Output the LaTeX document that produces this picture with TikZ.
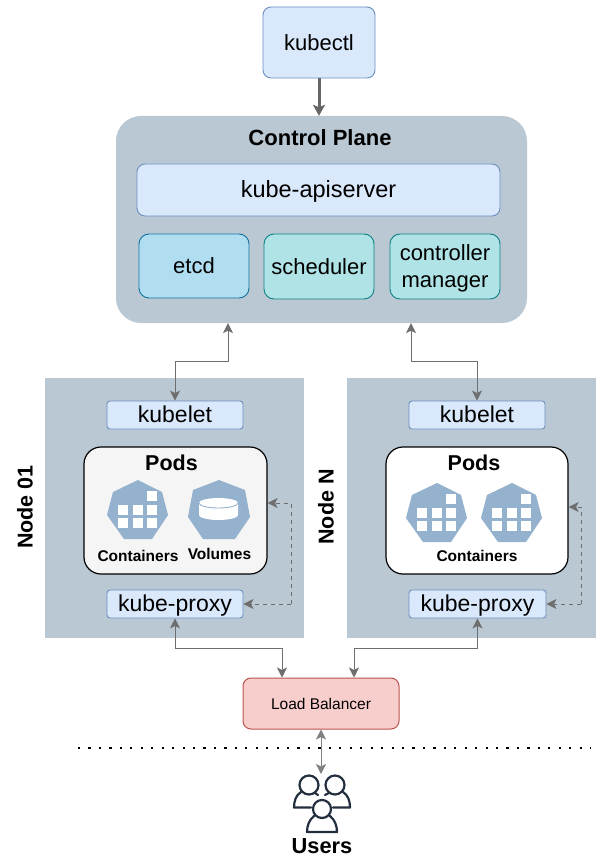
\documentclass[tikz,border=0pt]{standalone}
\usepackage{fontspec}
\setmainfont{Liberation Sans}
\usetikzlibrary{arrows.meta,calc}
\definecolor{panel}{HTML}{BAC8D3}
\definecolor{blueF}{HTML}{DAE8FC}\definecolor{blueD}{HTML}{6C8EBF}
\definecolor{etcdF}{HTML}{B1DDF0}\definecolor{etcdD}{HTML}{10739E}
\definecolor{tealF}{HTML}{B0E3E6}\definecolor{tealD}{HTML}{0E8088}
\definecolor{redF}{HTML}{F8CECC}\definecolor{redD}{HTML}{B85450}
\definecolor{iconC}{HTML}{94B1CD}\definecolor{userC}{HTML}{232F3E}
\definecolor{lineC}{HTML}{666666}\definecolor{thinC}{HTML}{6E6E6E}
\newcommand{\bx}[7]{% name, style, x0,y0,x1,y1, text
  \node[#2,minimum width=#5pt-#3pt,minimum height=#6pt-#4pt] (#1) at ({(#3+#5)/2},{(#4+#6)/2}) {#7};}
\tikzset{
  x=1pt,y=-1pt,
  txt/.style={font=\fontsize{#1}{#1}\selectfont,text=black,inner sep=0pt,align=center},
  cpbox/.style={fill=panel,draw=none,rounded corners=25pt,inner sep=0pt},
  panelbox/.style={fill=panel,draw=none,inner sep=0pt},
  bluebox/.style={txt=#1,fill=blueF,draw=blueD,line width=0.9pt,rounded corners=8pt},
  smallblue/.style={txt=23,fill=blueF,draw=blueD,line width=0.9pt,rounded corners=3pt,text height=19pt,text depth=4.5pt},
  etcdbox/.style={txt=22,fill=etcdF,draw=etcdD,line width=0.9pt,rounded corners=10pt},
  tealbox/.style={txt=22,fill=tealF,draw=tealD,line width=0.9pt,rounded corners=10pt},
  podbox/.style={draw=black,line width=1.2pt,rounded corners=17pt,inner sep=0pt},
  lbbox/.style={fill=redF,draw=redD,line width=1pt,rounded corners=8pt,inner sep=0pt,font=\fontsize{15.5}{18}\selectfont},
  bold/.style={font=\fontsize{#1}{#1}\selectfont\bfseries,inner sep=0pt,text=black},
  conn/.style={draw=thinC,line width=0.9pt,{Stealth[length=10pt,width=10pt,inset=2.5pt]}-{Stealth[length=10pt,width=10pt,inset=2.5pt]}},
  dashconn/.style={draw=thinC,line width=0.9pt,dash pattern=on 4pt off 4pt,-{Stealth[length=10pt,width=10pt,inset=2.5pt]}},
  user/.style={draw=userC,line width=2.2pt,fill=none,line join=round,line cap=round},
}
\newcommand{\podicon}[2]{%
  \begin{scope}[shift={(#1,#2)}]
  \fill[iconC] (138,480)--(162,492)--(168,515)--(152,539)--(124,539)--(107,515)--(113,492)--cycle;
  \foreach \cx/\cy in {147/491,118/505,133/505,147/505,118/518,133/518,147/518}
    \fill[white] (\cx,\cy) rectangle ++(10,10);
  \end{scope}}
\begin{document}
\begin{tikzpicture}
\useasboundingbox (0,0) rectangle (596,858);
\bx{kubectl}{bluebox=22}{263}{7}{375}{78}{kubectl}
\bx{cp}{cpbox}{116}{116}{527}{323}{}
\node[bold=22] (cptitle) at (320,138) {Control Plane};
\bx{api}{bluebox=23.5,text height=20pt,text depth=5.5pt}{137}{164}{500}{216}{kube-apiserver}
\bx{etcd}{etcdbox}{139}{234}{249}{298}{etcd}
\bx{sched}{tealbox}{264}{234}{374}{299}{scheduler}
\bx{ctrl}{tealbox}{390}{234}{500}{299}{\rule{0pt}{20pt}controller\\[5pt]manager}
\bx{n1}{panelbox}{45}{378}{304}{638}{}
\bx{nN}{panelbox}{347}{378}{596}{638}{}
\node[bold=21.5,rotate=90] (n1t) at (25,507) {Node 01};
\node[bold=21.5,rotate=90] (nNt) at (326,507) {Node N};
\bx{kl1}{smallblue}{107}{401}{243}{429}{kubelet}
\bx{klN}{smallblue}{409}{401}{545}{429}{kubelet}
\bx{kp1}{smallblue}{107}{590}{243}{618}{kube-proxy}
\bx{kpN}{smallblue}{409}{590}{546}{618}{kube-proxy}
\bx{p1}{podbox,fill=black!4}{84}{447}{267}{574}{}
\bx{pN}{podbox,fill=white}{386}{447}{568}{574}{}
\node[bold=21.5] (p1t) at (171.5,463) {Pods};
\node[bold=21.5] (pNt) at (474,463) {Pods};
\podicon{0}{0}
\podicon{299}{3}
\podicon{374}{3}
% volume icon
\fill[iconC] (219,480)--(245,490)--(250,517)--(235,539)--(203,539)--(188,517)--(193,490)--cycle;
\fill[white] (199,503) arc[x radius=19.5,y radius=5,start angle=180,end angle=360] -- (238.0,515) arc[x radius=19.5,y radius=5,start angle=0,end angle=180] -- cycle;
\draw[iconC,line width=0.9pt] (199,503) arc[x radius=19.5,y radius=5,start angle=180,end angle=0];
\node[bold=15.5] (lc1) at (138,556) {Containers};
\node[bold=15.5] (lv1) at (219.5,554) {Volumes};
\node[bold=15.5] (lcN) at (477,556) {Containers};
\bx{lb}{lbbox}{243}{678}{399}{729}{Load Balancer}
% connectors
\draw[draw=lineC,line width=3pt,-{Stealth[length=11pt,width=12pt,inset=2.5pt]}] (kubectl) -- (kubectl |- cp.north);
\coordinate (m1) at (228,361);
\coordinate (mN) at (411,361);
\draw[conn] (m1 |- cp.south) -- (m1) -| (kl1.north);
\draw[conn] (mN |- cp.south) -- (mN) -| (klN.north);
\coordinate (b1) at (282,648);
\coordinate (bN) at (354,648);
\draw[conn] (kp1.south) |- (b1) -- (b1 |- lb.north);
\draw[conn] (kpN.south) |- (bN) -- (bN |- lb.north);
\coordinate (d1) at (291,503);
\coordinate (dN) at (581,507);
\draw[dashconn] (d1 |- kp1.east) -- (d1) -- (d1 -| p1.east);
\draw[dashconn] (kp1.east -| d1) -- (kp1.east);
\draw[dashconn] (dN |- kpN.east) -- (dN) -- (dN -| pN.east);
\draw[dashconn] (kpN.east -| dN) -- (kpN.east);
\coordinate (dl) at (78,748);
\coordinate (dr) at (591,748);
\draw[black,line width=2.2pt,dash pattern=on 2.2pt off 8.25pt] (dl) -- (dr);
% users
\coordinate (uh) at (321,774);
\draw[draw=black!50,line width=1pt,{Stealth[length=10pt,width=10pt,inset=2.5pt]}-{Stealth[length=10pt,width=10pt,inset=2.5pt]}] (uh |- lb.south) -- (uh);
\draw[user] (309,785) circle (9.5);
\draw[user] (335,785) circle (9.5);
\draw[user] (301,792) .. controls (296,795) and (294,801) .. (294,807.5) -- (311,807.5);
\draw[user] (315,793) -- (318,795);
\draw[user] (343,792) .. controls (348,795) and (350,801) .. (350,807.5) -- (333,807.5);
\draw[user] (329,793) -- (325,795);
\draw[user] (322,809) circle (9);
\draw[user] (314,816) .. controls (309,820) and (307,826) .. (307,832) -- (337,832) .. controls (337,826) and (335,820) .. (330,816);
\node[bold=21.8] (ut) at (322,846) {Users};
\end{tikzpicture}
\end{document}
